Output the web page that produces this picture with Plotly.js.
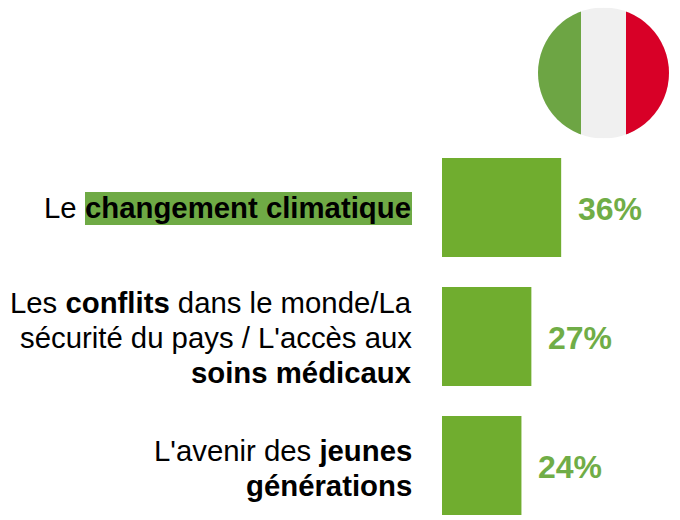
<!DOCTYPE html>
<html>
<head>
<meta charset="utf-8">
<script src="https://cdn.plot.ly/plotly-3.0.1.min.js"></script>
<style>html,body{margin:0;padding:0;background:#fff}</style>
</head>
<body>
<div id="chart" style="width:680px;height:520px"></div>
<script>
var categories = ["climat", "conflits", "jeunes"];
var values = [36, 27, 24];
var labelLines = [
  ["Le"],
  ["Les <b>conflits</b> dans le monde/La", "sécurité du pays / L'accès aux", "<b>soins médicaux</b>"],
  ["L'avenir des <b>jeunes</b>", "<b>générations</b>"]
];
var labelNudge = [0, -1, -2];
var highlighted = "<b>changement climatique</b>";
var barColor = "#70AD2F";
var valueColor = "#70AD47";
var highlightColor = "#6FAA45";
var FONT = "Liberation Sans, Arial, sans-serif";

var W = 680, H = 520, L = 442, T = 143, LINE = 35;
function px(x){ return (x - L) / (W - L); }
function py(y){ return 1 - (y - T) / (H - T); }

var flagSvg = '<svg xmlns="http://www.w3.org/2000/svg" width="262" height="262" viewBox="0 0 131 131">' +
  '<defs><clipPath id="c"><circle cx="65.5" cy="65.5" r="65.5"/></clipPath></defs>' +
  '<g clip-path="url(#c)"><rect width="131" height="131" fill="#F0F0F0"/>' +
  '<rect width="43" height="131" fill="#6DA544"/><rect x="88" width="43" height="131" fill="#D80027"/></g></svg>';

var annotations = [];
values.forEach(function(v, i){
  annotations.push({
    xref: "x", yref: "y", x: v, y: categories[i], xanchor: "left", yanchor: "middle",
    xshift: 15, yshift: -1, text: "<b>" + v + "%</b>", showarrow: false,
    font: {family: FONT, size: 32, color: valueColor}
  });
  var n = labelLines[i].length;
  labelLines[i].forEach(function(line, k){
    annotations.push({
      xref: "paper", yref: "y", x: px(i === 0 ? 77.5 : 412.5), y: categories[i],
      xanchor: "right", yanchor: "middle", align: "right", text: line, showarrow: false,
      yshift: ((n - 1) / 2 - k) * LINE + labelNudge[i], borderpad: 0,
      font: {family: FONT, size: 29.33, color: "#000000"}
    });
  });
});
annotations.push({
  xref: "paper", yref: "y", x: px(412), y: categories[0], xanchor: "right", yanchor: "middle",
  text: highlighted, showarrow: false, borderpad: 0,
  font: {family: FONT, size: 29.33, color: "#000000"}
});

Plotly.newPlot("chart", [{
  type: "bar", orientation: "h", x: values, y: categories,
  marker: {color: barColor, line: {width: 0}}, hoverinfo: "skip"
}], {
  width: W, height: H,
  margin: {l: L, r: 0, t: T, b: 0, pad: 0},
  paper_bgcolor: "#ffffff", plot_bgcolor: "#ffffff",
  bargap: 0.2326, showlegend: false,
  xaxis: {range: [0, 71.9], visible: false, fixedrange: true},
  yaxis: {type: "category", categoryorder: "array", categoryarray: categories,
          range: [2.422, -0.5], visible: false, fixedrange: true},
  annotations: annotations,
  shapes: [{
    type: "rect", xref: "paper", yref: "paper", layer: "below",
    x0: px(85), x1: px(412), y0: py(192), y1: py(225),
    fillcolor: highlightColor, line: {width: 0}
  }],
  images: [{
    source: "data:image/svg+xml;charset=utf-8," + encodeURIComponent(flagSvg),
    xref: "paper", yref: "paper", x: px(538), y: py(7.5), sizex: 131 / (W - L), sizey: 131 / (H - T),
    xanchor: "left", yanchor: "top", sizing: "stretch", layer: "above"
  }]
}, {displayModeBar: false, staticPlot: true});
</script>
</body>
</html>
